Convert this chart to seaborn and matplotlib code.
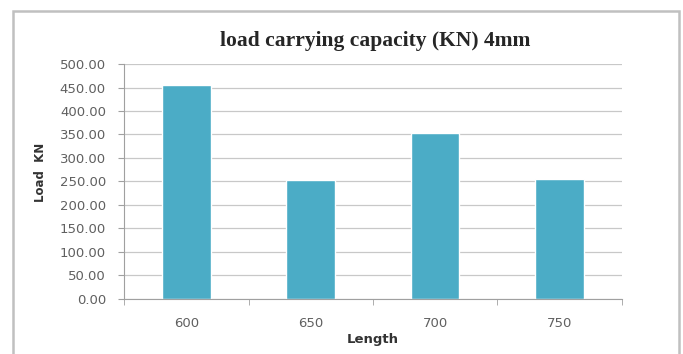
import pandas as pd
import seaborn as sns
import matplotlib.pyplot as plt
from matplotlib.patches import Rectangle

# chart data
lengths = ["600", "650", "700", "750"]
loads = [455.0, 253.0, 353.0, 256.0]
y_ticks = [0, 50, 100, 150, 200, 250, 300, 350, 400, 450, 500]

df = pd.DataFrame({"Length": lengths, "Load": loads})

sns.set_style("white")
plt.rcParams['font.family'] = ['DejaVu Sans']

fig = plt.figure(figsize=(6.83, 3.54), dpi=100)
ax = fig.add_axes([0.1816, 0.1554, 0.729, 0.6638])

# outer chart frame like the spreadsheet chart area
fig.patches.append(Rectangle((13 / 683, -0.05), 666 / 683, 1 - 11 / 354 + 0.05,
                             transform=fig.transFigure, fill=False,
                             edgecolor="#c0c0c0", linewidth=1.8))

sns.barplot(data=df, x="Length", y="Load", color="#4bacc6", width=0.39,
            saturation=1, ax=ax)

ax.set_xlim(-0.5, len(lengths) - 0.5)
ax.set_ylim(0, 500)
ax.set_yticks(y_ticks)
ax.set_yticklabels([f"{v:.2f}" for v in y_ticks])
ax.yaxis.grid(True, color="#c8c8c8", linewidth=0.9)
ax.set_axisbelow(True)

# category boundary ticks on the x axis
ax.set_xticks([i - 0.5 for i in range(len(lengths) + 1)], minor=True)
ax.tick_params(axis="x", which="minor", bottom=True, length=4, color="#a0a0a0")

for s in ["top", "right"]:
    ax.spines[s].set_visible(False)
ax.spines["left"].set_color("#a0a0a0")
ax.spines["bottom"].set_color("#a0a0a0")
ax.tick_params(axis="both", which="major", labelsize=9.5, colors="#606060", length=0)
ax.tick_params(axis="x", which="major", pad=13)
ax.tick_params(axis="y", left=True, length=4, color="#a0a0a0", pad=9)

ax.set_xlabel("Length", fontsize=9.5, fontweight="bold", color="#333333", labelpad=2)
ax.set_ylabel("")
fig.text(40 / 683, 1 - 172 / 354, "Load  KN", rotation=90, fontsize=8.5,
         fontweight="bold", color="#333333", ha="center", va="center")
fig.text(375 / 683, 1 - 41 / 354, "load carrying capacity (KN) 4mm", fontsize=15.5,
         fontweight="bold", family="Liberation Serif", ha="center", va="center")

plt.savefig("out.png", dpi=100)
